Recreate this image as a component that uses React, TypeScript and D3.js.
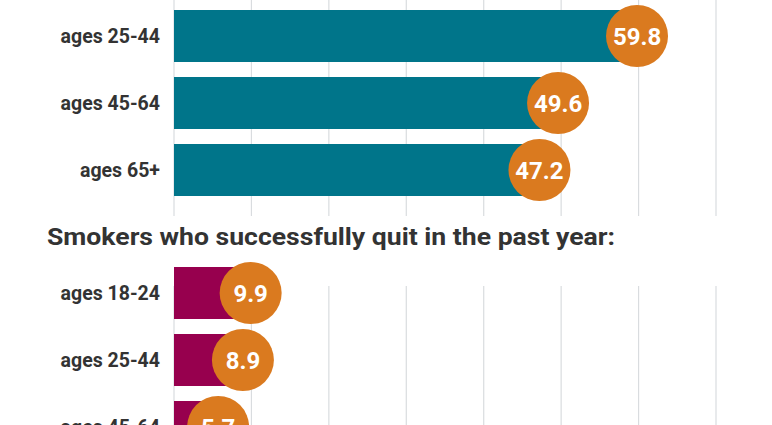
import React from "react";
import * as d3 from "d3";

const W = 772;
const H = 425;

const topCategories = ["ages 25-44", "ages 45-64", "ages 65+"];
const topValues = [59.8, 49.6, 47.2];

const bottomTitle = "Smokers who successfully quit in the past year:";
const bottomCategories = ["ages 18-24", "ages 25-44", "ages 45-64"];
const bottomValues = [9.9, 8.9, 5.7];

const gridTicks = [0, 10, 20, 30, 40, 50, 60, 70];

const TEAL = "#00758a";
const MAGENTA = "#97004e";
const ORANGE = "#da7a1f";
const TEXT = "#333333";
const GRID = "#d9dcdf";
const FONT = "Roboto, 'DejaVu Sans', sans-serif";

const x = d3.scaleLinear().domain([0, 70]).range([174, 716]);

const yTop = d3
  .scaleBand<string>()
  .domain(topCategories)
  .range([2.5, 203.5])
  .paddingInner(0.224)
  .paddingOuter(0.112);

const yBottom = d3
  .scaleBand<string>()
  .domain(bottomCategories)
  .range([259.5, 460.5])
  .paddingInner(0.224)
  .paddingOuter(0.112);

function Panel({
  cats,
  vals,
  y,
  color,
  gridTop,
  gridBottom,
}: {
  cats: string[];
  vals: number[];
  y: d3.ScaleBand<string>;
  color: string;
  gridTop: number;
  gridBottom: number;
}) {
  const bw = y.bandwidth();
  const r = 31;
  return (
    <g>
      {gridTicks.map((t) => (
        <line
          key={t}
          x1={x(t)}
          x2={x(t)}
          y1={gridTop}
          y2={gridBottom}
          stroke={GRID}
          strokeWidth={1.2}
        />
      ))}
      {cats.map((c, i) => {
        const y0 = y(c) as number;
        const cy = y0 + bw / 2;
        return (
          <g key={c}>
            <text
              x={160}
              y={cy + 6.5}
              textAnchor="end"
              fontFamily={FONT}
              fontWeight={700}
              fontSize={19.5}
              fill={TEXT}
            >
              {c}
            </text>
            <rect
              x={x(0)}
              y={y0}
              width={x(vals[i]) - x(0)}
              height={bw}
              fill={color}
            />
            <circle cx={x(vals[i])} cy={cy} r={r} fill={ORANGE} />
            <text
              x={x(vals[i])}
              y={cy + 8.5}
              textAnchor="middle"
              fontFamily={FONT}
              fontWeight={700}
              fontSize={24}
              fill="#ffffff"
            >
              {vals[i].toFixed(1)}
            </text>
          </g>
        );
      })}
    </g>
  );
}

export default function App() {
  return (
    <svg
      width={W}
      height={H}
      viewBox={`0 0 ${W} ${H}`}
      style={{ position: "absolute", left: 0, top: 0, display: "block", background: "#ffffff" }}
    >
      <rect x={0} y={0} width={W} height={H} fill="#ffffff" />
      <Panel
        cats={topCategories}
        vals={topValues}
        y={yTop}
        color={TEAL}
        gridTop={0}
        gridBottom={216}
      />
      <text
        x={47}
        y={245}
        fontFamily={FONT}
        fontWeight={700}
        fontSize={24}
        fill={TEXT}
        textLength={568}
        lengthAdjust="spacingAndGlyphs"
      >
        {bottomTitle}
      </text>
      <Panel
        cats={bottomCategories}
        vals={bottomValues}
        y={yBottom}
        color={MAGENTA}
        gridTop={286}
        gridBottom={H}
      />
    </svg>
  );
}
